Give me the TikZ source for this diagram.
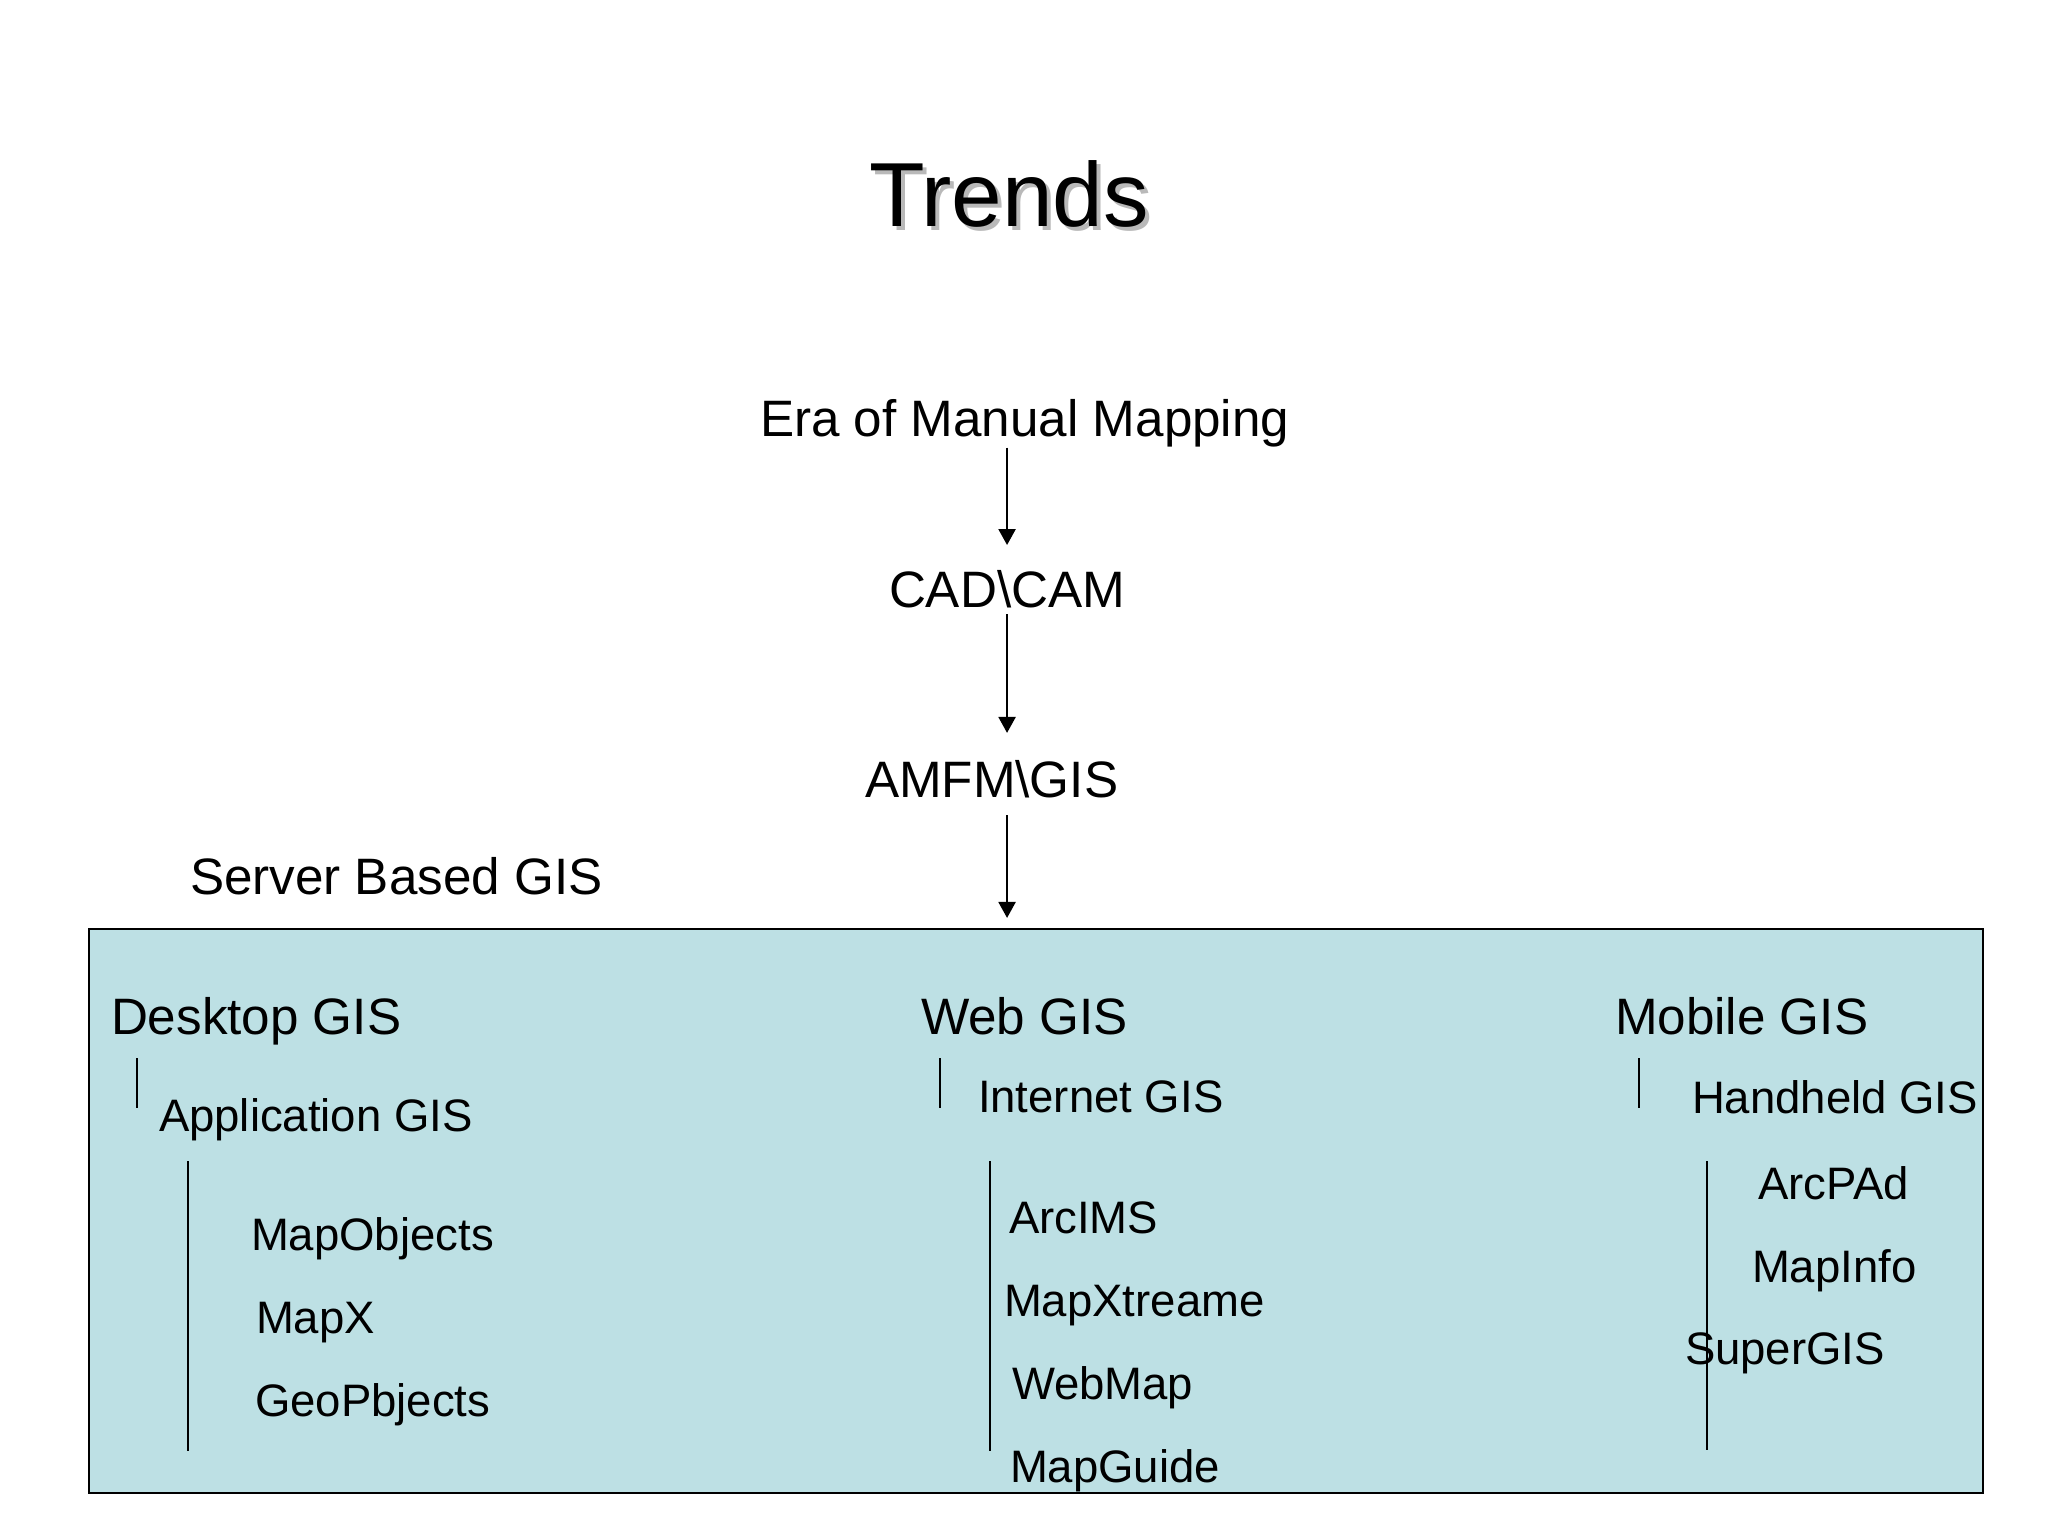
\documentclass[tikz,border=0pt]{standalone}
\usepackage{fontspec}
\setmainfont{Liberation Sans}
\usetikzlibrary{arrows.meta,fit}
\definecolor{boxblue}{RGB}{189,224,228}
\definecolor{shadowgray}{RGB}{185,185,185}
\begin{document}
\begin{tikzpicture}[x=0.3515625pt,y=-0.3515625pt,
  lbl/.style={inner sep=0pt, outer sep=0pt, anchor=base west, font=\fontsize{18}{21}\selectfont},
  sublbl/.style={lbl, font=\fontsize{16}{19}\selectfont},
  titlelbl/.style={lbl, font=\fontsize{32}{38}\selectfont},
  arr/.style={line width=0.7pt, -{Triangle[width=6pt,length=5.6pt]}},
  tickline/.style={line width=0.65pt},
  boxstyle/.style={draw=black, fill=boxblue, line width=0.75pt, inner sep=0pt, outer sep=0pt}]
\useasboundingbox[fill=white] (0,0) rectangle (2048,1536);

% title with shadow
\node[titlelbl, text=shadowgray] (titleshadow) at (873,231) {Trends};
\node[titlelbl] (title) at (869,227) {Trends};

% chain
\node[lbl] (era) at (760,437) {Era of Manual Mapping};
\node[lbl] (cad) at (889,608) {CAD\textbackslash CAM};
\node[lbl] (amfm) at (865,797) {AMFM\textbackslash GIS};
\node[lbl] (server) at (190,894) {Server Based GIS};

% box
\node[boxstyle, fit={(89,929) (1983,1493)}] (box) {};

\draw[arr, shorten >=9.1pt] (era.south -| cad.north) -- (cad.north);
\draw[arr, shorten <=2pt, shorten >=9.5pt] (cad.south) -- (cad.south |- amfm.north);
\draw[arr, shorten <=6.3pt, shorten >=3.9pt] (cad.south |- amfm.south) -- (cad.south |- box.north);

% column headings
\node[lbl] (desktop) at (111,1034) {Desktop GIS};
\node[lbl] (web) at (921,1034) {Web GIS};
\node[lbl] (mobile) at (1615,1034) {Mobile GIS};

% short ticks
\draw[tickline] (137,1058) -- (137,1108);
\draw[tickline] (940,1058) -- (940,1108);
\draw[tickline] (1639,1058) -- (1639,1108);

% second level
\node[sublbl] (application) at (159,1131) {Application GIS};
\node[sublbl] (internet) at (978,1112) {Internet GIS};
\node[sublbl] (handheld) at (1692,1113) {Handheld GIS};

% long bars
\draw[tickline] (188,1161) -- (188,1451);
\draw[tickline] (990,1161) -- (990,1451);
\draw[tickline] (1707,1161) -- (1707,1450);

% desktop items
\node[sublbl] (mapobjects) at (251,1250) {MapObjects};
\node[sublbl] (mapx) at (256,1333) {MapX};
\node[sublbl] (geopbjects) at (255,1416) {GeoPbjects};

% web items
\node[sublbl] (arcims) at (1009,1233) {ArcIMS};
\node[sublbl] (mapxtreame) at (1004,1316) {MapXtreame};
\node[sublbl] (webmap) at (1012,1399) {WebMap};
\node[sublbl] (mapguide) at (1010,1482) {MapGuide};

% mobile items
\node[sublbl] (arcpad) at (1758,1199) {ArcPAd};
\node[sublbl] (mapinfo) at (1752,1282) {MapInfo};
\node[sublbl] (supergis) at (1685,1364) {SuperGIS};
\end{tikzpicture}
\end{document}
